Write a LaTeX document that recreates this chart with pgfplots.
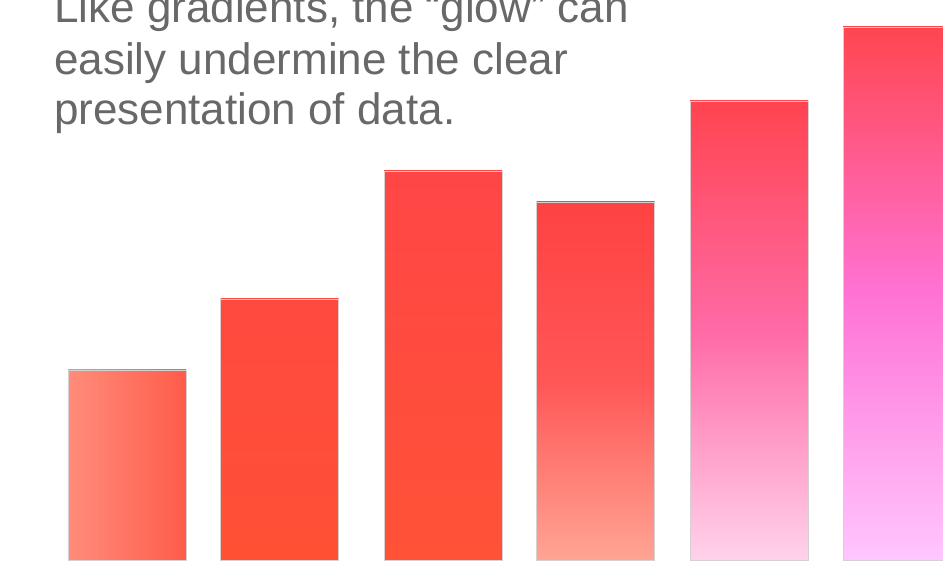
\documentclass[border=0pt]{standalone}
\usepackage{pgfplots}
\pgfplotsset{compat=1.18}
\usepackage{fontspec}
\setmainfont{Liberation Sans}
\definecolor{txt}{HTML}{686868}
\definecolor{edge}{HTML}{D8D0D0}
\definecolor{aL}{HTML}{FF8C7A}
\definecolor{aR}{HTML}{FF5C4A}
\definecolor{bT}{HTML}{FF4A40}
\definecolor{bB}{HTML}{FF5034}
\definecolor{cT}{HTML}{FF4646}
\definecolor{cB}{HTML}{FF5236}
\definecolor{dT}{HTML}{FF4242}
\definecolor{dM}{HTML}{FF5656}
\definecolor{dB}{HTML}{FFA494}
\definecolor{eT}{HTML}{FF4450}
\definecolor{eM}{HTML}{FF6AA6}
\definecolor{eB}{HTML}{FFD2EA}
\definecolor{fT}{HTML}{FF4650}
\definecolor{fM}{HTML}{FF72D4}
\definecolor{fB}{HTML}{FFC6FF}
\begin{document}
\begin{tikzpicture}
\useasboundingbox (0,0) rectangle (943pt,560pt);
\clip (0,0) rectangle (943pt,560pt);
\begin{axis}[
  at={(0,0)}, anchor=south west,
  scale only axis, width=943pt, height=560pt,
  xmin=0, xmax=943, ymin=0, ymax=560,
  hide axis, clip=true,
]
\addplot[ybar, bar width=118, bar shift=0pt, draw=edge, line width=0.6pt, left color=aL, right color=aR] coordinates {(127,190)};
\addplot[ybar, bar width=118, bar shift=0pt, draw=edge, line width=0.6pt, top color=bT, bottom color=bB] coordinates {(279.5,261)};
\addplot[ybar, bar width=118, bar shift=0pt, draw=edge, line width=0.6pt, top color=cT, bottom color=cB] coordinates {(443,389)};
\addplot[ybar, bar width=118, bar shift=0pt, draw=edge, line width=0.6pt, top color=dT, bottom color=dB, middle color=dM] coordinates {(595.5,358)};
\addplot[ybar, bar width=118, bar shift=0pt, draw=edge, line width=0.6pt, top color=eT, bottom color=eB, middle color=eM] coordinates {(749,459)};
\addplot[ybar, bar width=118, bar shift=0pt, draw=edge, line width=0.6pt, top color=fT, bottom color=fB, middle color=fM] coordinates {(902,533)};
\end{axis}
\begin{scope}[every node/.style={anchor=base west, inner sep=0pt, text=txt, font=\fontsize{44}{50}\selectfont}]
\node at (54pt,537pt) {Like gradients, the “glow” can};
\node at (54pt,485pt) {easily undermine the clear};
\node at (54pt,435pt) {presentation of data.};
\end{scope}
\end{tikzpicture}
\end{document}
